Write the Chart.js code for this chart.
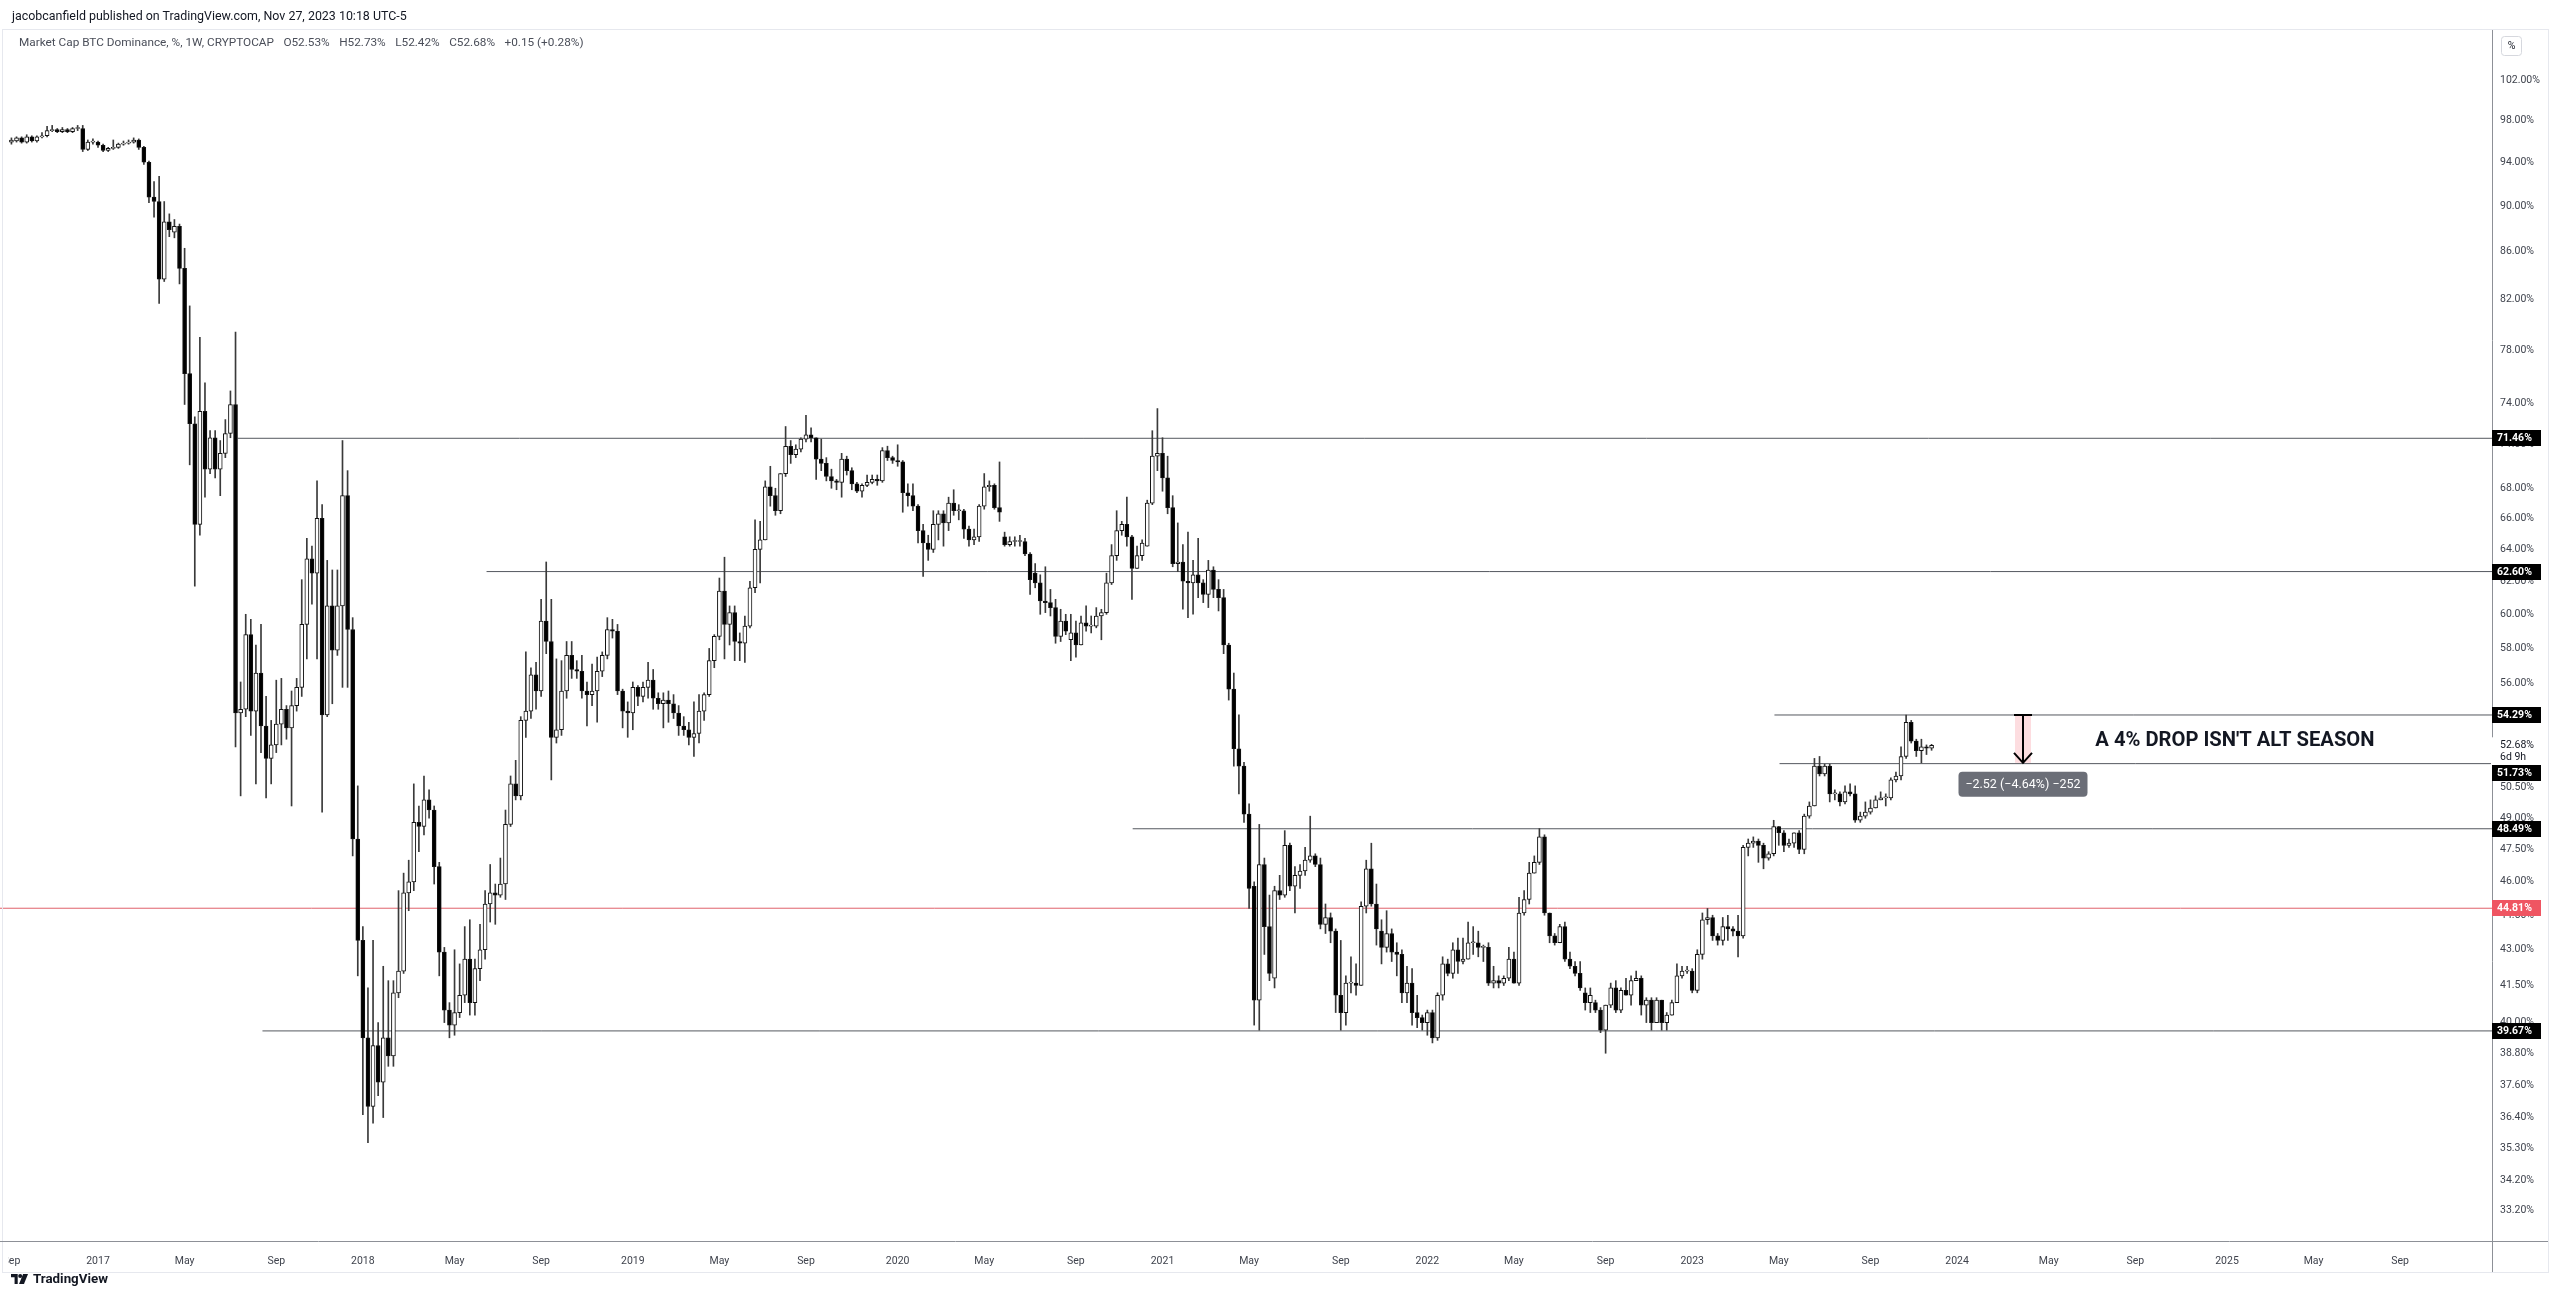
<!DOCTYPE html>
<html><head><meta charset="utf-8">
<script src="https://cdn.jsdelivr.net/npm/chart.js@4.4.0/dist/chart.umd.min.js"></script>
<style>
html,body{margin:0;padding:0;background:#fff;width:2560px;height:1297px;overflow:hidden;font-family:Roboto,"Noto Sans",sans-serif;}
#c{position:absolute;left:0;top:0;}
#h1{position:absolute;left:12px;top:8px;font-size:12.5px;line-height:15px;color:#131722;white-space:pre;z-index:2;}
#h2{position:absolute;left:19px;top:35px;font-size:12.5px;line-height:15px;color:#4a4e59;white-space:pre;z-index:2;}
#h2 span{margin-left:0.8em;}
#logo{position:absolute;left:11px;top:1270px;height:17px;display:flex;align-items:center;z-index:2;}
#logo b{font-size:12px;color:#131722;margin-left:5px;font-weight:700;white-space:pre;}
</style></head>
<body>
<canvas id="c" width="2560" height="1297"></canvas>
<div id="h1">jacobcanfield published on TradingView.com, Nov 27, 2023 10:18 UTC-5</div>
<div id="h2">Market Cap BTC Dominance, %, 1W, CRYPTOCAP<span>O52.53%</span><span>H52.73%</span><span>L52.42%</span><span>C52.68%</span><span>+0.15 (+0.28%)</span></div>
<div id="logo"><svg width="17" height="10" viewBox="0 0 38 22"><path d="M0 0h15v22H8V7H0z" fill="#131722"/><circle cx="20.5" cy="4.5" r="4.5" fill="#131722"/><path d="M27 0h11l-9 22H18z" fill="#131722"/></svg><b id="lt">TradingView</b></div>
<script>
// ---------- DATA ----------
const weekStart = '2016-09-05'; // first weekly bar (Monday)
const opens = [
95.9,96.0,96.3,95.9,96.4,96.0,96.4,96.5,97.0,97.1,
96.9,97.1,96.9,97.2,97.2,95.2,95.9,95.9,95.6,95.1,
95.3,95.4,95.7,95.8,95.9,96.1,95.4,94.0,90.8,90.4,
83.7,88.6,87.7,88.2,84.6,76.2,72.5,65.6,73.4,69.3,
71.5,69.3,70.4,71.8,73.9,54.4,54.6,58.8,54.5,56.6,
53.7,52.0,52.7,53.8,54.6,53.6,54.8,55.8,59.4,63.4,
62.5,66.0,54.3,60.5,57.9,60.5,67.5,59.1,48.0,43.4,
39.4,36.8,39.1,37.7,39.4,38.7,41.2,42.1,45.5,46.0,
48.8,48.6,49.9,49.4,46.7,42.9,40.5,39.9,40.4,41.1,
42.6,40.8,42.2,43.0,45.0,45.5,45.4,45.9,48.7,50.7,
50.1,54.0,54.5,56.5,55.6,59.6,58.4,53.1,53.5,55.6,
57.6,56.8,56.7,55.6,55.4,55.6,56.7,57.6,59.1,59.0,
55.6,54.5,54.4,55.8,55.3,55.8,56.2,55.2,54.9,55.1,
54.9,54.4,53.7,53.5,53.1,53.3,54.5,55.4,57.3,58.7,
61.4,59.4,60.1,58.4,58.3,59.3,61.6,64.0,64.6,68.1,
67.5,66.5,69.0,70.9,70.3,70.7,71.4,71.7,71.5,70.0,
69.7,68.8,68.5,68.4,70.0,69.2,68.3,67.8,68.2,68.4,
68.6,68.5,70.6,70.1,69.9,69.8,67.7,67.5,66.8,65.2,
64.4,64.0,65.6,66.3,65.7,67.0,66.5,66.5,65.3,64.6,
64.8,66.8,68.1,68.2,66.7,64.8,64.3,64.5,64.5,64.5,
63.7,62.5,61.9,60.8,60.7,60.4,58.7,59.6,58.5,58.9,
58.2,59.5,59.3,59.3,59.9,60.1,61.9,63.6,65.2,65.6,
64.8,62.8,63.6,64.2,67.0,70.2,70.4,68.7,66.7,63.1,
63.2,62.0,61.9,62.4,61.9,61.2,62.7,61.5,61.0,58.2,
55.7,52.5,51.6,49.2,45.8,40.9,46.8,44.0,41.8,45.6,
45.4,47.7,45.8,46.3,46.5,47.0,47.2,46.8,44.1,44.4,
43.8,41.1,40.4,41.6,41.6,41.5,44.9,46.6,45.0,43.8,
43.1,43.7,42.9,42.8,41.2,41.6,40.4,40.2,40.0,40.4,
39.4,41.1,42.4,42.0,43.0,42.5,42.6,43.3,43.3,43.1,
43.1,41.6,41.7,41.6,41.8,42.6,41.6,44.6,45.2,46.4,
46.9,48.1,44.6,43.6,43.3,44.0,42.6,42.3,42.0,41.2,
40.8,40.8,40.5,39.7,40.7,41.4,40.5,41.3,41.1,41.7,
41.8,40.7,40.9,40.0,40.9,40.0,40.3,40.8,41.9,42.1,
42.1,41.3,42.8,44.3,44.4,43.6,43.4,44.0,43.9,43.8,
43.6,47.6,47.8,47.9,47.7,47.1,47.3,48.6,48.3,47.7,
47.8,48.3,47.5,49.1,49.6,51.6,51.2,51.6,50.2,50.2,
49.8,50.3,50.2,48.9,49.1,49.3,49.5,49.9,50.0,50.0,
50.9,51.1,52.1,53.9,52.9,52.4,52.6,52.53];
const highs = [
96.3,96.4,96.4,96.6,96.5,96.5,96.8,97.4,97.5,97.2,
97.3,97.2,97.3,97.5,97.5,96.1,96.2,96.0,95.7,95.4,
96.1,95.8,96.0,96.1,96.3,96.2,95.5,94.1,92.2,92.7,
90.4,89.3,88.8,88.4,86.3,81.5,73.0,79.0,75.5,72.0,
72.0,71.3,72.8,74.9,79.4,56.1,60.0,59.7,58.2,59.4,
55.3,54.0,56.2,56.3,54.8,55.6,56.3,62.1,64.7,64.2,
68.5,66.9,63.3,62.7,62.7,71.3,69.2,59.8,50.6,44.0,
41.4,43.4,40.0,42.3,41.7,41.7,45.6,46.4,47.0,50.7,
49.6,51.1,50.4,49.6,46.9,43.1,40.8,43.0,42.4,44.0,
44.3,42.6,44.1,45.6,46.8,45.9,47.1,49.4,51.1,51.9,
54.2,57.8,56.9,57.2,60.9,63.2,60.9,57.4,57.3,58.4,
58.4,57.3,57.6,56.1,57.1,57.5,57.8,59.8,59.7,59.4,
55.7,55.0,56.1,55.9,56.1,57.2,56.8,55.5,55.5,55.6,
55.4,54.8,54.2,53.9,55.0,55.4,55.5,58.0,58.8,62.2,
63.5,60.5,60.5,58.9,59.9,62.0,65.9,65.8,68.5,69.5,
68.0,69.0,72.3,71.3,71.0,71.5,73.1,72.2,71.5,71.4,
70.1,69.3,68.6,70.4,70.2,69.4,68.4,68.3,68.9,68.9,
68.9,70.8,70.9,70.2,71.0,69.9,68.3,68.3,66.9,65.6,
64.9,66.5,66.5,66.5,67.4,67.9,66.9,66.6,65.5,65.3,
66.9,69.0,68.5,68.3,69.8,65.1,64.8,64.8,64.9,64.7,
63.8,63.1,62.4,62.9,61.5,60.9,60.3,60.0,60.0,59.6,
59.9,60.5,59.9,60.4,60.3,62.5,64.3,66.5,65.8,67.4,
64.9,64.2,64.6,67.2,72.0,73.6,71.5,70.2,67.5,65.7,
64.3,65.1,63.3,64.7,62.1,63.3,62.9,62.1,61.5,58.3,
56.6,54.3,51.8,49.7,46.0,48.7,47.1,45.4,45.8,46.3,
48.4,47.8,46.7,46.8,47.6,49.1,47.3,47.1,45.0,44.6,
43.9,43.4,41.9,42.7,42.4,45.1,47.0,47.8,45.9,44.3,
44.7,43.9,43.3,43.0,42.3,42.2,41.1,40.3,40.5,40.5,
41.2,42.7,42.6,43.3,43.5,43.5,44.2,44.0,43.8,43.2,
43.3,42.3,41.9,41.9,43.1,42.9,45.3,45.6,46.9,47.2,
48.5,48.2,44.6,43.7,44.1,44.2,42.9,42.5,42.5,41.4,
41.4,40.9,40.6,40.7,41.6,41.7,41.4,41.8,41.9,42.1,
41.9,41.0,41.0,41.0,40.9,40.4,40.9,42.4,42.3,42.3,
42.2,43.0,44.6,44.8,44.5,43.7,44.4,44.5,44.0,44.5,
47.7,48.0,48.1,48.0,47.8,47.4,48.9,48.6,48.4,48.0,
48.3,48.4,49.2,49.8,52.0,52.1,51.7,51.7,50.4,50.3,
50.6,50.7,50.6,49.3,49.8,49.9,50.1,50.3,50.2,51.0,
51.3,52.6,54.29,54.0,53.0,53.0,52.7,52.73];
const lows = [
95.7,95.9,95.8,95.8,95.9,95.9,96.3,96.4,96.9,96.8,
96.8,96.8,96.8,97.0,95.0,95.1,95.7,95.4,95.0,95.0,
95.2,95.3,95.6,95.7,95.8,95.2,93.8,90.3,89.0,81.7,
83.5,87.3,87.2,83.3,73.9,69.6,61.7,64.9,67.4,69.0,
68.7,67.5,70.1,71.5,52.6,50.1,54.2,53.2,50.7,52.3,
50.0,50.7,52.3,52.7,53.0,49.6,54.5,55.3,57.4,60.6,
57.4,49.3,54.2,54.9,57.6,55.8,55.8,47.2,41.9,36.5,
35.5,36.2,37.2,36.4,38.3,38.3,41.0,42.0,44.7,45.6,
47.4,48.2,49.0,45.9,41.9,40.0,39.4,39.5,40.2,40.8,
40.3,40.3,41.7,42.6,44.2,44.1,45.3,45.2,48.6,49.9,
49.9,53.1,54.1,54.6,55.3,57.7,50.9,52.8,53.2,55.2,
56.3,56.3,55.2,53.7,54.8,53.9,56.4,57.4,58.6,55.4,
53.6,53.1,53.5,54.8,55.0,55.2,54.6,54.6,53.6,53.9,
54.1,53.2,53.2,52.7,52.1,52.8,54.0,55.3,56.9,58.5,
57.4,58.2,57.3,57.3,57.2,59.2,61.3,61.9,64.6,66.8,
66.2,66.3,68.8,69.7,70.1,70.5,71.2,71.2,68.6,69.2,
68.5,68.0,67.9,67.4,68.9,67.9,67.7,67.4,68.1,68.3,
68.2,68.4,69.9,69.7,69.5,66.4,66.8,66.5,64.4,62.3,
63.3,63.8,64.6,64.2,65.2,66.2,65.9,64.7,64.2,64.3,
64.5,66.6,67.8,66.6,65.8,64.2,64.2,64.2,64.2,63.6,
61.2,61.6,60.0,60.1,59.9,58.3,58.4,58.8,57.3,57.5,
58.2,59.0,58.9,59.2,58.5,60.0,61.8,63.3,64.9,64.2,
60.9,62.8,63.3,64.2,66.9,69.2,67.8,66.3,62.9,62.6,
60.3,59.8,60.0,61.0,60.7,60.4,61.0,60.2,57.7,55.1,
51.6,50.2,48.8,44.8,39.9,39.7,42.8,41.7,41.4,45.2,
45.3,45.6,44.6,45.7,46.3,46.9,46.7,43.9,43.7,43.3,
40.4,39.7,39.9,41.2,41.1,41.5,44.6,44.9,43.2,42.4,
42.9,42.5,41.9,40.8,40.8,39.9,39.8,39.7,39.5,39.2,
39.3,40.9,41.9,41.8,42.0,42.4,42.6,42.8,42.7,42.5,
41.5,41.4,41.4,41.5,41.7,41.6,41.5,44.5,45.0,46.4,
46.8,44.5,43.3,43.2,43.3,42.5,42.2,41.9,41.3,40.5,
40.4,40.4,39.6,38.8,40.6,40.4,40.4,41.1,40.7,41.7,
40.3,40.0,39.7,40.0,39.7,39.7,40.3,40.8,41.8,42.0,
41.2,41.2,42.6,44.1,43.4,43.2,43.2,43.4,43.6,42.7,
43.5,47.2,47.6,46.9,46.6,47.0,47.2,47.7,47.4,47.6,
47.6,47.3,47.3,49.0,49.6,51.1,51.1,49.8,49.9,49.6,
49.7,50.1,48.8,48.8,49.0,49.2,49.5,49.9,49.6,49.9,
50.8,50.9,52.0,52.8,52.1,51.77,52.2,52.42];
const closes = [
96.1,96.3,95.9,96.4,96.0,96.4,96.5,97.0,97.1,96.9,
97.1,96.9,97.2,97.2,95.2,95.9,95.9,95.6,95.1,95.3,
95.4,95.7,95.8,95.9,96.1,95.4,94.0,90.8,90.4,83.7,
88.6,87.9,88.2,84.6,76.2,72.5,65.6,73.4,69.3,71.5,
69.3,70.4,71.8,73.9,54.4,54.6,58.8,54.5,56.6,53.7,
52.0,52.7,53.8,54.6,53.6,54.8,55.8,59.4,63.4,62.5,
66.0,54.3,60.5,57.9,60.5,67.5,59.1,48.0,43.4,39.4,
36.8,39.1,37.7,39.4,38.7,41.2,42.1,45.5,46.0,48.8,
48.6,49.9,49.4,46.7,42.9,40.5,39.9,40.4,41.1,42.6,
40.8,42.2,43.0,45.0,45.5,45.4,45.9,48.7,50.7,50.1,
54.0,54.5,56.5,55.6,59.6,58.4,53.1,53.5,55.6,57.6,
56.8,56.7,55.6,55.4,55.6,56.7,57.6,59.1,59.0,55.6,
54.5,54.4,55.8,55.3,55.8,56.2,55.2,54.9,55.1,54.9,
54.4,53.7,53.5,53.1,53.3,54.5,55.4,57.3,58.7,61.4,
59.4,60.1,58.4,58.3,59.3,61.6,64.0,64.6,68.1,67.5,
66.5,69.0,70.9,70.3,70.7,71.4,71.7,71.5,70.0,69.7,
68.8,68.5,68.4,70.0,69.2,68.3,67.8,68.2,68.4,68.6,
68.5,70.6,70.1,69.9,69.8,67.7,67.5,66.8,65.2,64.4,
64.0,65.6,66.3,65.7,67.0,66.5,66.5,65.3,64.6,64.8,
66.8,68.1,68.2,66.7,66.4,64.3,64.5,64.5,64.5,63.7,
62.1,61.9,60.8,60.7,60.4,58.7,59.6,59.0,58.9,58.2,
59.5,59.3,59.3,59.9,60.1,61.9,63.6,65.2,65.6,64.8,
62.8,63.6,64.4,67.0,70.2,70.4,68.7,66.7,63.1,63.2,
62.0,61.9,62.4,61.9,61.2,62.7,61.5,61.0,58.2,55.7,
52.5,51.6,49.2,45.7,40.9,46.8,44.0,42.0,45.6,45.4,
47.7,45.8,46.3,46.5,47.0,47.2,46.8,44.1,44.4,43.8,
41.1,40.4,41.6,41.6,41.5,44.9,46.6,45.0,43.9,43.1,
43.7,42.9,42.8,41.2,41.6,40.4,40.2,40.0,40.4,39.4,
41.1,42.4,42.0,43.0,42.5,42.6,43.3,43.3,43.1,43.1,
41.6,41.7,41.6,41.8,42.6,41.6,44.6,45.2,46.4,46.9,
48.1,44.6,43.6,43.3,44.0,42.6,42.3,42.0,41.4,40.8,
41.1,40.5,39.7,40.7,41.4,40.5,41.3,41.1,41.7,41.8,
40.7,40.9,40.0,40.9,40.0,40.3,40.8,41.9,42.1,42.1,
41.3,42.8,44.3,44.4,43.6,43.4,44.0,43.9,43.8,43.6,
47.6,47.8,47.9,47.7,47.1,47.3,48.6,48.3,47.7,47.8,
48.3,47.5,49.1,49.6,51.6,51.2,51.6,50.2,50.2,49.8,
50.3,50.2,48.9,49.1,49.3,49.5,49.9,50.0,50.0,50.9,
51.1,52.1,53.9,52.9,52.4,52.6,52.53,52.68];

const xTickDates = ['2016-09-05','2017-01-02','2017-05-01','2017-09-04','2018-01-01','2018-05-07','2018-09-03',
 '2019-01-07','2019-05-06','2019-09-02','2020-01-06','2020-05-04','2020-09-07','2021-01-04','2021-05-03','2021-09-06',
 '2022-01-03','2022-05-02','2022-09-05','2023-01-02','2023-05-01','2023-09-04','2024-01-01','2024-05-06','2024-09-02',
 '2025-01-06','2025-05-05','2025-09-01'];
const xTickLabels = ['Sep','2017','May','Sep','2018','May','Sep','2019','May','Sep','2020','May','Sep','2021','May','Sep',
 '2022','May','Sep','2023','May','Sep','2024','May','Sep','2025','May','Sep'];
const yTickValues = [102,98,94,90,86,82,78,74,71,68,66,64,62,60,58,56,54,50.5,49,47.5,46,44.5,43,41.5,40,38.8,37.6,36.4,35.3,34.2,33.2];

const levelValues = [71.46, 62.60, 54.29, 51.73, 48.49, 44.81, 39.67];
const levelStarts = ['2017-07-13','2018-06-20','2023-04-25','2023-05-02','2020-11-24','2016-08-20','2017-08-16'];
const redLevel = 44.81;

const measureDate = '2024-03-31', measureFrom = 54.29, measureTo = 51.77;
const noteText = "A 4% DROP ISN'T ALT SEASON", noteDate = '2024-07-09', noteEndDate = '2025-07-28', noteLevel = 52.9;
const countdown = '6d 9h';

// ---------- TEXT FITTING (header / footer widths as in the snapshot) ----------
function fitWidth(el, target) {
  const fs = parseFloat(getComputedStyle(el).fontSize);
  const w = el.getBoundingClientRect().width;
  if (w > 0) el.style.fontSize = (fs * target / w).toFixed(2) + 'px';
}
fitWidth(document.getElementById('h1'), 395);
fitWidth(document.getElementById('h2'), 565);
fitWidth(document.getElementById('lt'), 75);

// ---------- BUILD ----------
const DAY = 86400000;
const D = s => Date.parse(s + 'T00:00:00Z');
const xMin = D('2016-08-20') + 7*3600000, xMax = D('2026-01-05') + 5*3600000;
const yMin = 32.2, yMax = 107.19;
const t0 = D(weekStart);
const xs = closes.map((_, i) => t0 + i*7*DAY);
const up = closes.map((c, i) => c >= opens[i]);

Chart.defaults.font.family = 'Roboto, "Noto Sans", sans-serif';

const datasets = [
  { label:'wick', data: xs.map((x,i)=>({x, y:[lows[i], highs[i]]})), backgroundColor:'#3a3a3a',
    barThickness:1, grouped:false, order:3, borderWidth:0 },
  { label:'body', data: xs.map((x,i)=>({x, y:[opens[i], closes[i]]})),
    backgroundColor: up.map(u => u ? '#ffffff' : '#000000'), borderColor:'#111111', borderWidth:1,
    borderSkipped:false, barThickness:4, minBarLength:1, grouped:false, order:2 }
];
levelValues.forEach((v, k) => datasets.push({
  type:'line', data:[{x:D(levelStarts[k]), y:v}, {x:xMax, y:v}],
  borderColor: v === redLevel ? '#e0616b' : '#55585f', borderWidth: 1, pointRadius: 0, order: 5, clip: false
}));

function drawRoundRect(g, x, y, w, h, r) {
  g.beginPath(); g.moveTo(x+r, y); g.lineTo(x+w-r, y); g.quadraticCurveTo(x+w, y, x+w, y+r);
  g.lineTo(x+w, y+h-r); g.quadraticCurveTo(x+w, y+h, x+w-r, y+h); g.lineTo(x+r, y+h);
  g.quadraticCurveTo(x, y+h, x, y+h-r); g.lineTo(x, y+r); g.quadraticCurveTo(x, y, x+r, y); g.closePath();
}

const overlay = {
  id: 'overlay',
  beforeDraw(c) { const g = c.ctx; g.save(); g.fillStyle = '#fff'; g.fillRect(0, 0, c.width, c.height); g.restore(); },
  afterDatasetsDraw(c) {
    const g = c.ctx, x = c.scales.x, y = c.scales.y;
    const mx = Math.round(x.getPixelForValue(D(measureDate)));
    const yt = y.getPixelForValue(measureFrom), yb = y.getPixelForValue(measureTo);
    g.save();
    g.fillStyle = 'rgba(242,54,69,0.17)';
    g.fillRect(mx - 8, yt, 16, yb - yt);
    g.strokeStyle = '#000'; g.lineWidth = 2; g.lineCap = 'butt';
    g.beginPath();
    g.moveTo(mx - 9, yt); g.lineTo(mx + 9, yt);
    g.moveTo(mx, yt); g.lineTo(mx, yb);
    g.moveTo(mx - 9, yb - 10); g.lineTo(mx, yb); g.lineTo(mx + 9, yb - 10);
    g.stroke();
    // measure label
    const d = measureTo - measureFrom, pct = d / measureFrom * 100;
    const txt = '\u2212' + Math.abs(d).toFixed(2) + ' (\u2212' + Math.abs(pct).toFixed(2) + '%) \u2212' + Math.round(Math.abs(d)*100);
    const bw = 129, bh = 25, bx = mx - bw/2, by = yb + 9;
    g.fillStyle = '#6b6e77'; drawRoundRect(g, bx, by, bw, bh, 4); g.fill();
    g.fillStyle = '#fff'; g.font = '12.5px Roboto'; g.textAlign = 'center'; g.textBaseline = 'middle';
    g.fillText(txt, mx, by + bh/2 + 0.5);
    // note text, sized to span its two anchor dates
    const nx0 = x.getPixelForValue(D(noteDate)), nx1 = x.getPixelForValue(D(noteEndDate));
    g.font = 'bold 20px Roboto';
    const fs = 20 * (nx1 - nx0) / g.measureText(noteText).width;
    g.font = 'bold ' + fs.toFixed(2) + 'px Roboto';
    g.fillStyle = '#131722'; g.textAlign = 'left'; g.textBaseline = 'middle';
    g.fillText(noteText, nx0, y.getPixelForValue(noteLevel));
    g.restore();
  },
  afterDraw(c) {
    const g = c.ctx, a = c.chartArea, y = c.scales.y;
    g.save();
    // first time label is partly hidden at the pane edge
    g.fillStyle = '#fff'; g.fillRect(0, Math.round(a.bottom) + 2, 8, 26);
    // pane frame
    g.strokeStyle = '#e6e8ee'; g.lineWidth = 1;
    g.strokeRect(2.5, 29.5, 2546, 1243);
    // axis separators
    g.strokeStyle = '#8d9097';
    g.beginPath();
    g.moveTo(a.right + 0.5, 30); g.lineTo(a.right + 0.5, 1272);
    g.moveTo(0, Math.round(a.bottom) + 0.5); g.lineTo(2548, Math.round(a.bottom) + 0.5);
    g.stroke();
    // last price label with countdown
    const last = closes[closes.length - 1];
    const py = y.getPixelForValue(last);
    g.fillStyle = '#fff'; g.fillRect(a.right - 1, py - 8, 52, 28);
    g.fillStyle = '#131722'; g.font = '10.5px Roboto'; g.textAlign = 'left'; g.textBaseline = 'middle';
    g.fillText(last.toFixed(2) + '%', a.right + 8, py);
    g.fillText(countdown, a.right + 8, py + 12.5);
    const blockBottom = py + 20;
    // level labels
    g.font = 'bold 10.5px Roboto';
    levelValues.forEach(v => {
      let ly = y.getPixelForValue(v);
      if (v < last && ly - 8 < blockBottom) ly = blockBottom + 8;
      g.fillStyle = v === redLevel ? '#ef5562' : '#000';
      g.fillRect(a.right, Math.round(ly) - 8, 49, 16);
      g.fillStyle = '#fff';
      g.fillText(v.toFixed(2) + '%', a.right + 5, ly + 0.5);
    });
    // % button
    g.strokeStyle = '#d6d8de'; drawRoundRect(g, 2501.5, 36.5, 20, 19, 3); g.stroke();
    g.fillStyle = '#131722'; g.font = '10.5px Roboto'; g.textAlign = 'center';
    g.fillText('%', 2511.5, 46.5);
    g.restore();
  }
};

new Chart(document.getElementById('c'), {
  type: 'bar',
  data: { datasets },
  options: {
    responsive: false, animation: false, devicePixelRatio: 1, events: [],
    layout: { padding: { left: 0, top: 30, right: 12, bottom: 26 } },
    plugins: { legend: { display: false }, tooltip: { enabled: false } },
    scales: {
      x: {
        type: 'linear', min: xMin, max: xMax, offset: false, bounds: 'data',
        grid: { display: false, drawTicks: false }, border: { display: false },
        afterBuildTicks: s => { s.ticks = xTickDates.map(d => ({ value: D(d) })); },
        afterFit: s => { s.height = 30; s.paddingLeft = 0; s.paddingRight = 0; },
        ticks: { autoSkip: false, maxRotation: 0, padding: 14, color: '#3f434d', font: { size: 10.5 },
          callback: (v, i) => xTickLabels[i] }
      },
      y: {
        type: 'logarithmic', position: 'right', min: yMin, max: yMax, bounds: 'data',
        grid: { display: false, drawTicks: false }, border: { display: false },
        afterBuildTicks: s => { s.ticks = yTickValues.map(v => ({ value: v })); },
        afterFit: s => { s.width = 56; },
        ticks: { autoSkip: false, padding: 8, color: '#3f434d', font: { size: 10.5 },
          callback: v => Number(v).toFixed(2) + '%' }
      }
    }
  },
  plugins: [overlay]
});
</script>
</body></html>
